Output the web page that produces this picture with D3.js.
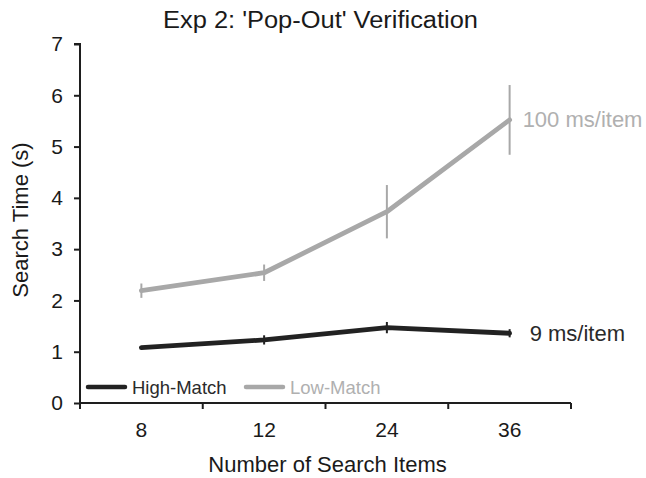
<!DOCTYPE html>
<html>
<head>
<meta charset="utf-8">
<script src="https://cdn.jsdelivr.net/npm/d3@7"></script>
<style>
  html, body { margin: 0; padding: 0; background: #fff; }
  svg { display: block; font-family: "Liberation Sans", Arial, sans-serif; }
</style>
</head>
<body>
<svg id="chart" width="646" height="478"></svg>
<script>
// ---- data ----
const categories = ["8", "12", "24", "36"];
const highMatch = [1.08, 1.23, 1.47, 1.36];
const highMatchErr = [0.03, 0.09, 0.11, 0.08];
const lowMatch = [2.19, 2.54, 3.73, 5.52];
const lowMatchErr = [0.14, 0.16, 0.52, 0.68];
const yTicks = [0, 1, 2, 3, 4, 5, 6, 7];
const seriesNames = ["High-Match", "Low-Match"];
const slopeLabels = ["9 ms/item", "100 ms/item"];
const titleText = "Exp 2: 'Pop-Out' Verification";
const xTitle = "Number of Search Items";
const yTitle = "Search Time (s)";

// ---- drawing ----
const svg = d3.select("#chart");
const x = d3.scaleBand().domain(categories).range([80, 571]).padding(0);
const y = d3.scaleLinear().domain([0, 7]).range([403, 44]);
const axisColor = "#1e1e1e";
const darkColor = "#222222";
const grayColor = "#a8a8a8";

const series = [
  { name: seriesNames[0], values: highMatch, err: highMatchErr, color: darkColor, textColor: "#2a2a2a", label: slopeLabels[0] },
  { name: seriesNames[1], values: lowMatch, err: lowMatchErr, color: grayColor, textColor: "#b0b0b0", label: slopeLabels[1] }
];

// title
svg.append("text")
  .attr("x", 320.5).attr("y", 28)
  .attr("text-anchor", "middle")
  .attr("font-size", 23)
  .attr("fill", "#1a1a1a")
  .attr("textLength", 315)
  .attr("lengthAdjust", "spacingAndGlyphs")
  .text(titleText);

// y axis
const yAxis = svg.append("g")
  .attr("transform", `translate(${x.range()[0]},0)`)
  .call(d3.axisLeft(y).tickValues(yTicks).tickSize(6).tickPadding(11).tickFormat(d3.format("d")));
yAxis.select(".domain").attr("stroke", axisColor).attr("stroke-width", 2).attr("d", `M-6,${y(7)}H0V${y(0)}`);
yAxis.selectAll(".tick line").attr("stroke", axisColor).attr("stroke-width", 2);
yAxis.selectAll(".tick text").attr("font-size", 21).attr("fill", "#1a1a1a").attr("font-family", "Liberation Sans, Arial, sans-serif");

// x axis: labels at band centers, ticks at band boundaries
const xAxis = svg.append("g")
  .attr("transform", `translate(0,${y(0)})`)
  .call(d3.axisBottom(x).tickSize(0).tickPadding(19));
xAxis.select(".domain").attr("stroke", axisColor).attr("stroke-width", 2).attr("d", `M${x.range()[0]},0H${x.range()[1]}`);
xAxis.selectAll(".tick text").attr("font-size", 21).attr("fill", "#1a1a1a").attr("font-family", "Liberation Sans, Arial, sans-serif");
const boundaries = categories.map(c => x(c)).concat([x.range()[1]]);
xAxis.selectAll(".bound").data(boundaries).enter().append("line")
  .attr("x1", d => d).attr("x2", d => d)
  .attr("y1", 0).attr("y2", 6)
  .attr("stroke", axisColor).attr("stroke-width", 2);

// axis titles
svg.append("text")
  .attr("x", 327.5).attr("y", 472)
  .attr("text-anchor", "middle")
  .attr("font-size", 22)
  .attr("fill", "#1a1a1a")
  .text(xTitle);
svg.append("text")
  .attr("transform", `translate(28,220) rotate(-90)`)
  .attr("text-anchor", "middle")
  .attr("font-size", 22)
  .attr("fill", "#1a1a1a")
  .text(yTitle);

const cx = c => x(c) + x.bandwidth() / 2;
const line = d3.line().x(d => cx(d.c)).y(d => y(d.v));

// series lines + error bars (low first so high stays on top)
[series[1], series[0]].forEach(s => {
  const pts = categories.map((c, i) => ({ c, v: s.values[i], e: s.err[i] }));
  const g = svg.append("g");
  g.append("path").datum(pts)
    .attr("d", line)
    .attr("fill", "none")
    .attr("stroke", s.color)
    .attr("stroke-width", 4.8)
    .attr("stroke-linejoin", "round")
    .attr("stroke-linecap", "round");
  g.selectAll(".err").data(pts).enter().append("line")
    .attr("x1", d => cx(d.c)).attr("x2", d => cx(d.c))
    .attr("y1", d => y(d.v + d.e)).attr("y2", d => y(d.v - d.e))
    .attr("stroke", s.color)
    .attr("stroke-width", 2);
  const last = pts[pts.length - 1];
  svg.append("text")
    .attr("x", cx(last.c) + (s === series[0] ? 20 : 13))
    .attr("y", y(last.v) + 7.5)
    .attr("font-size", 22)
    .attr("fill", s.textColor)
    .text(s.label);
});

// legend
const legendX = [88, 246];
series.forEach((s, i) => {
  const lg = svg.append("g").attr("transform", `translate(${legendX[i]},387)`);
  lg.append("line").attr("x1", 0).attr("x2", 37).attr("y1", 0).attr("y2", 0)
    .attr("stroke", s.color).attr("stroke-width", 4.5).attr("stroke-linecap", "round");
  lg.append("text").attr("x", 44).attr("y", 6.5)
    .attr("font-size", 18.5)
    .attr("fill", s.textColor)
    .text(s.name);
});
</script>
</body>
</html>
